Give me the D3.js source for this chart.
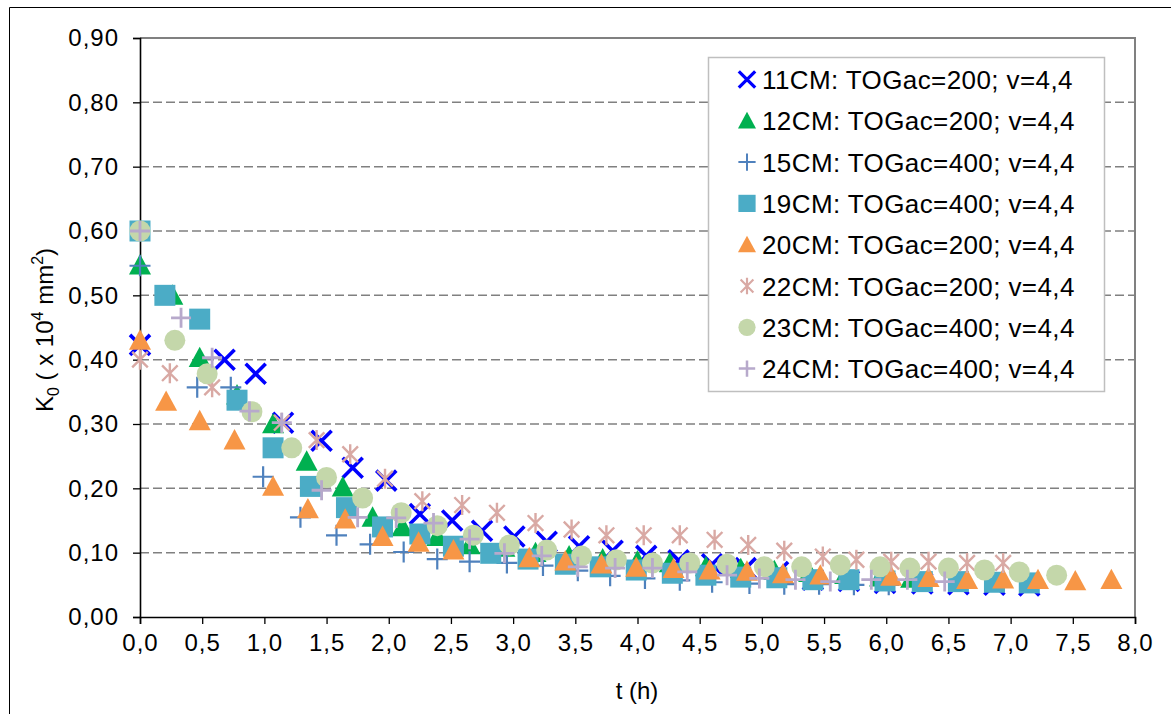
<!DOCTYPE html>
<html><head><meta charset="utf-8">
<script src="https://cdn.jsdelivr.net/npm/d3@7"></script>
<style>body{margin:0;background:#fff;} svg{display:block;font-family:"Liberation Sans",Arial,sans-serif;}</style>
</head><body><svg id="c" width="1171" height="714"></svg>
<script>
// ---- data ----
const xTicks = [0,0.5,1,1.5,2,2.5,3,3.5,4,4.5,5,5.5,6,6.5,7,7.5,8];
const yTicks = [0,0.1,0.2,0.3,0.4,0.5,0.6,0.7,0.8,0.9];
const seriesNames = ["11CM: TOGac=200; v=4,4","12CM: TOGac=200; v=4,4","15CM: TOGac=400; v=4,4","19CM: TOGac=400; v=4,4","20CM: TOGac=200; v=4,4","22CM: TOGac=200; v=4,4","23CM: TOGac=400; v=4,4","24CM: TOGac=400; v=4,4"];

const t11 = [0,0.68,0.93,1.15,1.46,1.71,1.98,2.25,2.51,2.75,3.01,3.27,3.53,3.8,4.07,4.33,4.6,4.87,5.13,5.41,5.70,5.99,6.29,6.58,6.87,7.15];
const k11 = [0.423,0.40,0.378,0.302,0.274,0.232,0.212,0.160,0.150,0.134,0.125,0.117,0.110,0.103,0.095,0.088,0.082,0.076,0.070,0.058,0.056,0.053,0.052,0.051,0.050,0.049];

const t12 = [0,0.26,0.48,0.78,1.07,1.34,1.63,1.87,2.11,2.39,2.65,2.93,3.18,3.45,3.72,4.0,4.26,4.55,4.83,5.1,5.38,5.67,5.95,6.2];
const k12 = [0.547,0.50,0.403,0.345,0.300,0.242,0.202,0.155,0.140,0.125,0.112,0.108,0.100,0.095,0.090,0.087,0.084,0.078,0.075,0.072,0.069,0.066,0.062,0.060];

const t15 = [0,0.46,0.73,0.99,1.29,1.58,1.85,2.12,2.39,2.65,2.95,3.24,3.52,3.78,4.06,4.34,4.6,4.9,5.18,5.46,5.74,6.02];
const k15 = [0.546,0.357,0.357,0.218,0.155,0.127,0.113,0.101,0.090,0.086,0.084,0.080,0.072,0.064,0.060,0.057,0.054,0.052,0.051,0.051,0.050,0.050];

const t19 = [0,0.2,0.48,0.78,1.07,1.37,1.66,1.95,2.25,2.52,2.82,3.12,3.42,3.70,3.99,4.28,4.55,4.83,5.12,5.41,5.70,5.99,6.29,6.58,6.87,7.15];
const k19 = [0.600,0.500,0.463,0.337,0.263,0.203,0.170,0.140,0.129,0.110,0.099,0.090,0.082,0.078,0.073,0.068,0.065,0.062,0.061,0.058,0.058,0.056,0.055,0.055,0.054,0.053];

const t20 = [0,0.21,0.48,0.76,1.07,1.35,1.65,1.95,2.24,2.52,3.13,3.42,3.71,3.99,4.29,4.58,4.88,5.17,5.47,6.04,6.34,6.65,6.94,7.22,7.52,7.81];
const k20 = [0.430,0.335,0.305,0.275,0.203,0.168,0.152,0.125,0.116,0.104,0.092,0.087,0.082,0.077,0.075,0.073,0.071,0.067,0.065,0.063,0.061,0.058,0.059,0.058,0.056,0.058];

const t22 = [0,0.24,0.58,1.14,1.42,1.69,1.97,2.27,2.59,2.87,3.18,3.47,3.75,4.05,4.34,4.62,4.89,5.18,5.49,5.76,6.04,6.34,6.65,6.94];
const k22 = [0.400,0.379,0.357,0.302,0.275,0.253,0.215,0.180,0.174,0.162,0.146,0.136,0.127,0.127,0.127,0.120,0.112,0.103,0.094,0.089,0.086,0.086,0.084,0.084];

const t23 = [0,0.28,0.54,0.9,1.22,1.5,1.79,2.1,2.39,2.68,2.97,3.27,3.55,3.83,4.12,4.42,4.72,5.02,5.32,5.63,5.95,6.19,6.5,6.79,7.07,7.37];
const k23 = [0.600,0.430,0.378,0.319,0.263,0.217,0.185,0.162,0.142,0.127,0.112,0.104,0.095,0.089,0.084,0.084,0.082,0.078,0.078,0.081,0.078,0.076,0.076,0.073,0.070,0.065];

const t24 = [0,0.33,0.58,0.88,1.14,1.46,1.75,2.06,2.36,2.65,2.93,3.23,3.52,3.82,4.12,4.4,4.72,4.98,5.27,5.55,5.88,6.17,6.47];
const k24 = [0.600,0.465,0.403,0.320,0.302,0.197,0.155,0.154,0.146,0.121,0.099,0.095,0.078,0.076,0.076,0.070,0.065,0.060,0.058,0.055,0.058,0.058,0.055];

// ---- styles ----
const styles = [
  {kind:"x", color:"#0000FF", size:20, sw:3.6},
  {kind:"tri", color:"#00B050", size:22},
  {kind:"plus", color:"#4F81BD", size:21, sw:2.2},
  {kind:"square", color:"#4BACC6", size:21},
  {kind:"tri", color:"#F79646", size:22},
  {kind:"star", color:"#D9A9A4", size:20, sw:2.4},
  {kind:"circle", color:"#C4D7AA", size:21},
  {kind:"plus", color:"#B7A9CB", size:20, sw:2.8}
];
const tData = [t11,t12,t15,t19,t20,t22,t23,t24];
const kData = [k11,k12,k15,k19,k20,k22,k23,k24];

const svg = d3.select("#c");
const W = 1171, H = 714;
const L = 140, R = 1135, T = 38, B = 617;
const x = d3.scaleLinear().domain([0,8]).range([L,R]);
const y = d3.scaleLinear().domain([0,0.9]).range([B,T]);
const fmtX = v => d3.format(".1f")(v).replace(".", ",");
const fmtY = v => d3.format(".2f")(v).replace(".", ",");

// outer frame
svg.append("path").attr("d", `M9.5,${H} V7.5 H${W}`).attr("fill","none").attr("stroke","#000").attr("stroke-width",1);

// gridlines
svg.append("g").selectAll("line").data(yTicks.filter(v=>v>0 && v<0.9)).join("line")
  .attr("x1",L).attr("x2",R).attr("y1",d=>y(d)).attr("y2",d=>y(d))
  .attr("stroke","#808080").attr("stroke-width",1.5).attr("stroke-dasharray","9,4");

// plot border (top/right)
svg.append("path").attr("d",`M${L},${T} H${R} V${B}`).attr("fill","none").attr("stroke","#808080").attr("stroke-width",2);

// axes
const yAxis = d3.axisLeft(y).tickValues(yTicks).tickFormat(fmtY).tickSize(7).tickPadding(14);
const gy = svg.append("g").attr("transform",`translate(${L},0)`).call(yAxis);
const xAxis = d3.axisBottom(x).tickValues(xTicks).tickFormat(fmtX).tickSize(7).tickPadding(4);
const gx = svg.append("g").attr("transform",`translate(0,${B})`).call(xAxis);
[gx,gy].forEach(g=>{
  g.select(".domain").attr("stroke","#000").attr("stroke-width",1.6);
  g.selectAll(".tick line").attr("stroke","#000").attr("stroke-width",1.3);
  g.selectAll(".tick text").attr("fill","#000").style("font-size","24px").style("letter-spacing","1px")
   .style("font-family",'"Liberation Sans",Arial,sans-serif');
});
gx.selectAll(".tick text").attr("dy","0.95em");

// symbol generator
function symPath(kind, s){
  const h = s/2;
  switch(kind){
    case "x": return `M${-h},${-h}L${h},${h}M${-h},${h}L${h},${-h}`;
    case "plus": return `M${-h},0H${h}M0,${-h}V${h}`;
    case "star": { const a = h*0.78; return `M${-a},${-a}L${a},${a}M${-a},${a}L${a},${-a}M0,${-h}V${h}`; }
    case "tri": return `M0,${-h}L${h},${h*0.85}L${-h},${h*0.85}Z`;
    case "square": return `M${-h},${-h}H${h}V${h}H${-h}Z`;
    case "circle": return `M${h},0A${h},${h} 0 1 1 ${-h},0A${h},${h} 0 1 1 ${h},0Z`;
  }
}
function drawSym(g, st, scale){
  const s = st.size*scale;
  const p = g.append("path").attr("d", symPath(st.kind, s));
  if (st.kind==="x"||st.kind==="plus"||st.kind==="star"){
    p.attr("fill","none").attr("stroke",st.color).attr("stroke-width",st.sw*(scale<1?0.9:1)).attr("stroke-linecap","butt");
  } else {
    p.attr("fill",st.color).attr("stroke","none");
  }
}

// points
const pts = svg.append("g");
styles.forEach((st,i)=>{
  const g = pts.append("g");
  tData[i].forEach((tv,j)=>{
    const gg = g.append("g").attr("transform",`translate(${x(tv)},${y(kData[i][j])})`);
    drawSym(gg, st, 1);
  });
});

// legend
const lg = svg.append("g");
lg.append("rect").attr("x",708.5).attr("y",57.5).attr("width",396).attr("height",334)
  .attr("fill","#fff").attr("stroke","#BFBFBF").attr("stroke-width",1.5);
seriesNames.forEach((n,i)=>{
  const cy = 79.5 + i*41.3;
  const gg = lg.append("g").attr("transform",`translate(747,${cy})`);
  drawSym(gg, styles[i], 0.82);
  lg.append("text").attr("x",762).attr("y",cy+9.5).text(n)
    .style("font-size","26px").style("letter-spacing","0.4px").attr("fill","#000");
});

// axis titles
svg.append("text").attr("x",637).attr("y",699).attr("text-anchor","middle").style("font-size","24px").text("t (h)");
const yt = svg.append("text").attr("transform","translate(53,330) rotate(-90)").attr("text-anchor","middle").style("font-size","24px");
yt.append("tspan").text("K");
yt.append("tspan").attr("dy",6).style("font-size","16px").text("0");
yt.append("tspan").attr("dy",-6).text(" ( x 10");
yt.append("tspan").attr("dy",-10).style("font-size","16px").text("4");
yt.append("tspan").attr("dy",10).text(" mm");
yt.append("tspan").attr("dy",-10).style("font-size","16px").text("2");
yt.append("tspan").attr("dy",10).text(")");
</script></body></html>
